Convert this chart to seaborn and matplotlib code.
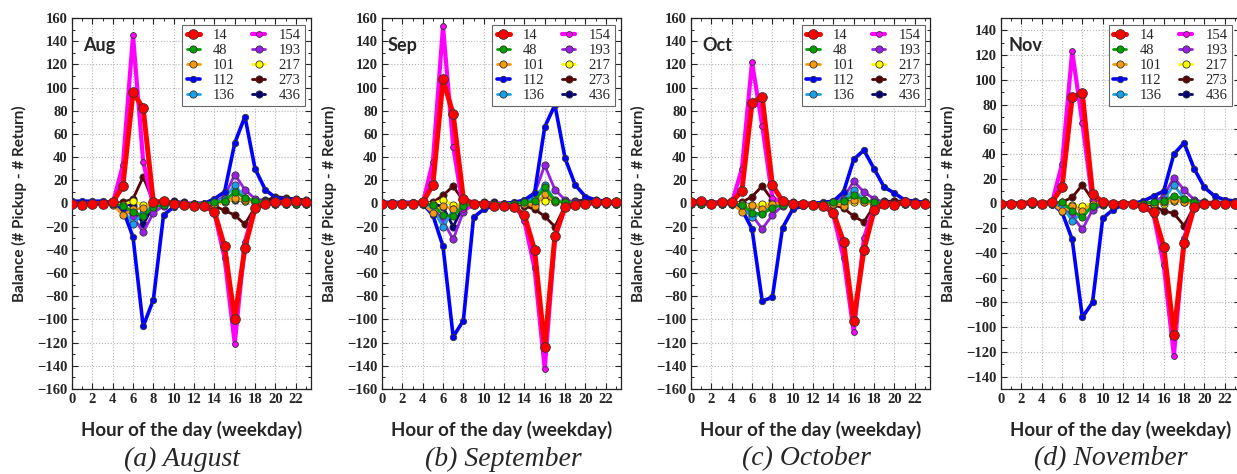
import numpy as np
import pandas as pd
import matplotlib
matplotlib.use("Agg")
import matplotlib.pyplot as plt
import seaborn as sns
from matplotlib.ticker import MultipleLocator

# ---------------- data ----------------
HOURS = list(range(24))
STATIONS = ["14", "48", "101", "112", "136", "154", "193", "217", "273", "436"]
MONTH_TAGS = ["Aug", "Sep", "Oct", "Nov"]
CAPTIONS = ["(a) August", "(b) September", "(c) October", "(d) November"]

AUG = {
    "14":  [0, -1, 0, 0, 1, 15, 96, 82, 1, 2, 0, -1, -2, -2, -7, -37, -100, -38, -4, 0, 1, 1, 2, 1],
    "48":  [0, 0, 0, 0, 0, -2, -7, -11, -3, -1, 0, 0, 0, 0, 1, 2, 10, 5, 2, 1, 0, 0, 0, 0],
    "101": [0, 0, 0, 0, -1, -10, -5, -4, 0, 0, 0, 0, 0, 0, 0, 2, 5, 3, 1, 0, 0, 0, 0, 0],
    "112": [2, 2, 2, 2, 1, -5, -29, -106, -83, -10, -3, -1, 0, 0, 4, 10, 52, 75, 30, 12, 5, 4, 3, 2],
    "136": [0, 0, 0, 0, 0, -5, -18, -8, -2, 0, 0, 0, 0, 0, 1, 4, 16, 5, 1, 0, 0, 0, 0, 0],
    "154": [0, 0, 0, 0, 0, 33, 145, 36, -2, -1, 0, 0, 0, 0, -8, -47, -121, -33, -3, 0, 0, 0, 0, 0],
    "193": [0, 0, 0, 0, 0, -3, -11, -25, -8, -2, 0, 0, 0, 0, 1, 6, 25, 12, 4, 1, 0, 0, 0, 0],
    "217": [0, 0, 0, 0, 0, -1, 2, -1, 0, 0, 0, 0, 0, 0, 0, 1, 4, 2, 1, 0, 0, 0, 0, 0],
    "273": [0, 0, 0, 0, 0, 1, 4, 23, 1, 0, 0, 0, 0, 0, -2, -6, -10, -18, -3, 2, 6, 5, 4, 3],
    "436": [0, 0, 0, 0, 0, 0, -2, -18, -2, 0, 2, 1, 0, 0, 1, 2, 3, 2, 3, 3, 4, 3, 3, 2],
}
SEP = {
    "14":  [0, 0, 0, 0, 1, 16, 107, 77, 4, 0, 0, -2, -2, -3, -10, -40, -124, -28, -3, -1, 0, 1, 1, 1],
    "48":  [0, 0, 0, 0, 0, -1, -10, -11, -2, 0, 0, 0, 0, 0, 1, 2, 14, 2, 1, 0, 0, 0, 0, 0],
    "101": [0, 0, 0, 0, 0, -8, -2, -5, 0, 0, 0, 0, 0, 0, 0, -2, 8, 2, 1, 0, 0, 0, 0, 0],
    "112": [1, 1, 1, 1, 0, -10, -37, -115, -101, -12, -5, -2, 0, 1, 3, 9, 66, 85, 39, 16, 6, 3, 2, 1],
    "136": [0, 0, 0, 0, 0, -5, -20, -5, -2, 0, 0, 0, 0, 0, 1, 5, 16, 3, 1, 0, 0, 0, 0, 0],
    "154": [0, 0, 0, 0, 0, 36, 153, 49, -5, -1, 0, 0, 0, 0, -15, -56, -143, -30, -3, 0, 0, 0, 0, 0],
    "193": [0, 0, 0, 0, 0, -3, -15, -31, -7, -1, 0, 0, 0, 0, 1, 8, 33, 12, 3, 1, 0, 0, 0, 0],
    "217": [0, 0, 0, 0, 0, 0, 3, -1, 0, 0, 0, 0, 0, 0, 0, 0, 2, 1, 0, 0, 0, 0, 0, 0],
    "273": [0, 0, 0, 0, 0, 1, 7, 15, 2, 0, 0, 0, 0, 0, -2, -5, -11, -20, -2, 1, 3, 3, 2, 1],
    "436": [0, 0, 0, 0, 0, 0, -3, -20, -2, 0, 1, 1, 0, 0, 1, 2, 3, 2, 2, 2, 3, 2, 2, 1],
}
OCT = {
    "14":  [1, 2, 0, 1, 1, 11, 87, 92, 16, 2, 0, 0, -1, -2, -8, -33, -101, -40, -6, 0, -1, 1, 0, 0],
    "48":  [0, 0, 0, 0, 0, -1, -8, -9, -4, -1, 0, 0, 0, 0, 1, 2, 7, 3, 1, 0, 0, 0, 0, 0],
    "101": [0, 0, 0, 0, 0, -7, -1, -5, 0, 0, 0, 0, 0, 0, 0, -2, 3, 1, 0, 0, 0, 0, 0, 0],
    "112": [0, 0, 1, 1, 0, -5, -22, -84, -81, -21, -5, -2, 0, 1, 2, 10, 38, 46, 30, 14, 9, 3, 2, 1],
    "136": [0, 0, 0, 0, 0, -3, -12, -8, -2, 0, 0, 0, 0, 0, 1, 3, 12, 3, 1, 0, 0, 0, 0, 0],
    "154": [0, 0, 0, 0, 0, 30, 122, 67, 5, 0, 0, 0, 0, 0, -10, -47, -111, -30, -3, 0, 0, 0, 0, 0],
    "193": [0, 0, 0, 0, 0, -2, -10, -22, -10, -2, 0, 0, 0, 0, 1, 5, 19, 10, 4, 1, 0, 0, 0, 0],
    "217": [0, 0, 0, 0, 0, 0, -2, 0, 0, 0, 0, 0, 0, 0, 0, 0, 1, 1, 0, 0, 0, 0, 0, 0],
    "273": [0, 0, 0, 0, 0, 1, 6, 15, 3, 0, 0, 0, 0, 0, -1, -4, -11, -16, -2, 1, 2, 2, 1, 1],
    "436": [0, 0, 0, 0, 0, 0, -1, -5, -1, 0, 1, 0, 0, 0, 1, 1, 2, 2, 1, 2, 2, 2, 1, 1],
}
NOV = {
    "14":  [0, 0, 0, 1, 0, 1, 13, 86, 89, 8, 1, 0, 0, 0, -3, -7, -35, -106, -32, -3, 0, 0, 0, 0],
    "48":  [0, 0, 0, 0, 0, 0, 1, -6, -11, -2, 0, 0, 0, 0, 0, 1, 2, 6, 4, 1, 0, 0, 0, 0],
    "101": [0, 0, 0, 0, 0, 0, -6, -2, -6, 0, 0, 0, 0, 0, 0, 0, 1, 3, 1, 0, 0, 0, 0, 0],
    "112": [0, 0, 0, 0, 0, 0, -7, -29, -92, -80, -12, -5, -1, 0, 2, 6, 10, 40, 49, 28, 13, 6, 3, 2],
    "136": [0, 0, 0, 0, 0, 0, -2, -14, -8, -2, 0, 0, 0, 0, 0, 1, 3, 15, 4, 1, 0, 0, 0, 0],
    "154": [0, 0, 0, 0, 0, 0, 32, 123, 65, 2, 0, 0, 0, 0, -1, -9, -50, -123, -28, -2, 0, 0, 0, 0],
    "193": [0, 0, 0, 0, 0, 0, -3, -10, -21, -5, -1, 0, 0, 0, 0, 1, 6, 21, 11, 3, 1, 0, 0, 0],
    "217": [0, 0, 0, 0, 0, 0, 0, -1, -2, 0, 0, 0, 0, 0, 0, 0, 0, 2, 1, 0, 0, 0, 0, 0],
    "273": [0, 0, 0, 0, 0, 0, 1, 5, 15, 3, 0, 0, 0, 0, 0, -2, -6, -8, -18, -2, 1, 1, 1, 0],
    "436": [0, 0, 0, 0, 0, 0, 0, -2, -5, -1, 0, 0, 0, 0, 0, 1, 1, 2, 2, 1, 1, 1, 1, 0],
}
MONTH_DATA = [AUG, SEP, OCT, NOV]
YLIMS = [(-160, 160), (-160, 160), (-160, 160), (-150, 150)]

# ---------------- styles ----------------
COLORS = {"14": "#FF0000", "48": "#00A000", "101": "#F59A0F", "112": "#0000FF",
          "136": "#1AA0E6", "154": "#FF00FF", "193": "#9A1FE6", "217": "#FFFF00",
          "273": "#5A0000", "436": "#000070"}
LWS = {"14": 3.6, "154": 3.0, "112": 2.6}
MSS = {"14": 7.0, "154": 4.2, "112": 4.6}

SERIF = "Liberation Serif"
SANS = "Lato"

sns.set_theme(style="ticks")
plt.rcParams.update({
    "font.family": [SERIF, "DejaVu Sans"],
    "font.weight": "bold",
    "xtick.labelsize": 10.5, "ytick.labelsize": 10.5,
    "xtick.direction": "in", "ytick.direction": "in",
    "xtick.top": True, "ytick.right": True,
    "axes.edgecolor": "#222222", "axes.linewidth": 0.9,
    "axes.unicode_minus": True,
})

fig = plt.figure(figsize=(12.37, 4.74), dpi=100)
W, H = 1237.0, 474.0
LEFTS = [72, 382, 691, 1001]
LEG_RIGHT = [0.975, 0.975, 0.979, 0.966]
TAG_X = [0.046, 0.025, 0.046, 0.03]
CAP_X = [182, 503, 806, 1111]

for i, data in enumerate(MONTH_DATA):
    ax = fig.add_axes([LEFTS[i] / W, 85 / H, 239 / W, 371 / H])
    for st in reversed(STATIONS):
        df = pd.DataFrame({"hour": HOURS, "balance": data[st]})
        sns.lineplot(data=df, x="hour", y="balance", ax=ax, color=COLORS[st],
                     linewidth=LWS.get(st, 2.0), marker="o",
                     markersize=MSS.get(st, 5.2), markeredgecolor="#333333",
                     markeredgewidth=0.6, label=st,
                     zorder=10 + (len(STATIONS) - STATIONS.index(st)))
    ax.set_xlim(0, 23.5)
    ax.set_ylim(*YLIMS[i])
    ax.xaxis.set_major_locator(MultipleLocator(2))
    ax.xaxis.set_minor_locator(MultipleLocator(1))
    ax.yaxis.set_major_locator(MultipleLocator(20))
    ax.yaxis.set_minor_locator(MultipleLocator(10))
    ax.grid(True, which="major", linestyle=":", color="#b5b5b5", linewidth=0.8)
    ax.tick_params(which="major", length=4, width=0.8, pad=3)
    ax.tick_params(which="minor", length=2, width=0.7)
    ax.set_xlabel("Hour of the day (weekday)", fontfamily=SANS, fontweight="bold", fontsize=13.5)
    ax.set_ylabel("Balance (# Pickup - # Return)", fontfamily=SANS, fontweight="bold", fontsize=11)
    ax.xaxis.set_label_coords(0.5, -0.085)
    ax.yaxis.set_label_coords(-0.19, 0.5)
    ax.text(TAG_X[i], 0.925, MONTH_TAGS[i], transform=ax.transAxes, ha="left", va="center",
            fontfamily=SANS, fontweight="bold", fontsize=13, zorder=30)
    handles, labels = ax.get_legend_handles_labels()
    hmap = dict(zip(labels, handles))
    leg = ax.legend([hmap[s] for s in STATIONS], STATIONS, ncol=2, loc="upper right",
                    bbox_to_anchor=(LEG_RIGHT[i], 0.982), borderaxespad=0,
                    frameon=True, fancybox=False, framealpha=1, edgecolor="#666666",
                    prop={"family": SERIF, "size": 10.5, "weight": "normal"},
                    handlelength=0.9, handletextpad=0.9, columnspacing=1.2,
                    labelspacing=0.12, borderpad=0.3)
    leg.get_frame().set_linewidth(0.8)
    leg.set_zorder(40)
    fig.text(CAP_X[i] / W, 1 - 459 / H, CAPTIONS[i], ha="center", va="center",
             fontfamily=SERIF, fontstyle="italic", fontweight="normal", fontsize=20)

fig.savefig("out.png", dpi=100, facecolor="white")
